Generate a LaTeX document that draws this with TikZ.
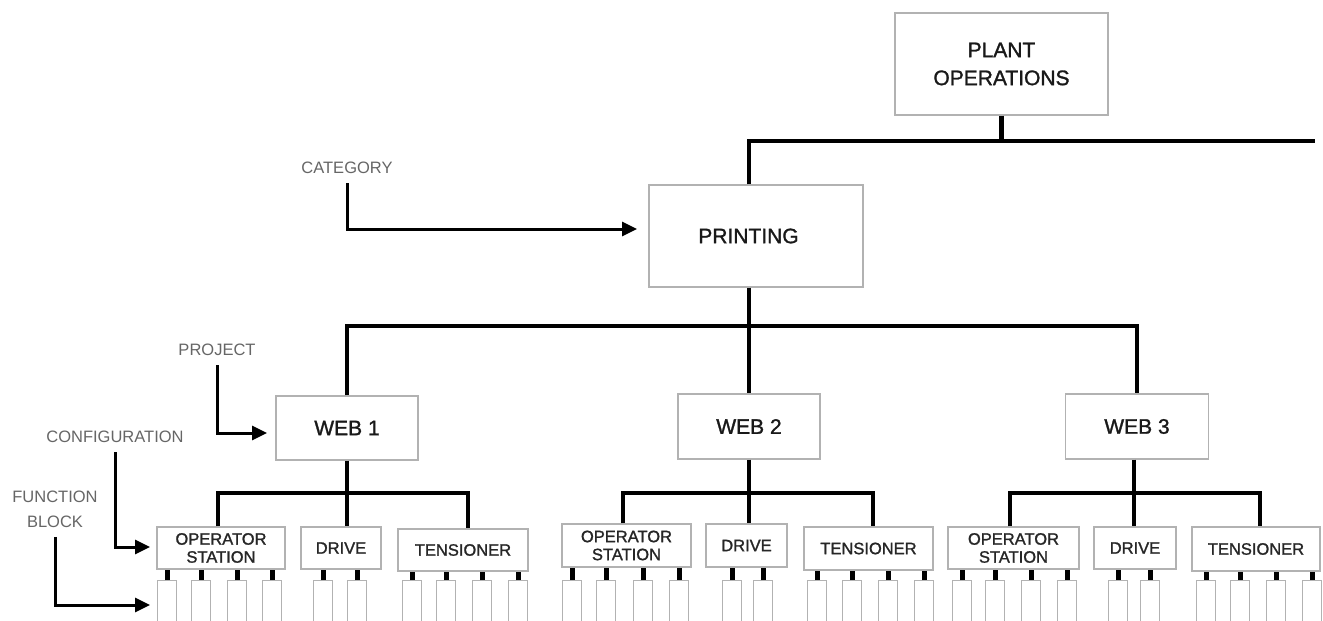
\documentclass[tikz,border=0pt]{standalone}
\usepackage{fontspec}
\setmainfont{Liberation Sans}
\newfontfamily\boxfont[FakeBold=1.3]{Liberation Sans}
\usetikzlibrary{arrows.meta}
\begin{document}
\begin{tikzpicture}[x=1pt,y=-1pt,
  bigbox/.style={draw=black!30, line width=1.2pt, inner sep=0pt, align=center, font=\boxfont\fontsize{21}{28}\selectfont, text=black!90},
  cfgbox/.style={draw=black!30, line width=1.2pt, inner sep=0pt, align=center, font=\boxfont\fontsize{16.5}{18}\selectfont, text=black!85},
  fblock/.style={draw=black!30, line width=1pt, inner sep=0pt, minimum width=19pt, minimum height=50pt, anchor=north},
  bus/.style={line width=4.2pt, line join=miter},
  stub/.style={line width=5pt},
  lbl/.style={font=\fontsize{16.5}{25}\selectfont, text=black!60, align=center},
  arr/.style={line width=3pt, -{Triangle[length=15pt,width=14pt]}, shorten <=6pt}
]
\clip (0,0) rectangle (1323,621);
\fill[white] (0,0) rectangle (1323,621);

% main boxes
\node[bigbox, minimum width=213pt, minimum height=102pt] (plant) at (1001.5,64) {PLANT\\OPERATIONS};
\node[bigbox, minimum width=214pt, minimum height=102pt] (printing) at (756,236) {PRINTING\hspace*{15pt}};
\node[bigbox, minimum width=142pt, minimum height=64pt] (web1) at (347,428) {WEB 1};
\node[bigbox, minimum width=142pt, minimum height=65pt] (web2) at (749,426.5) {WEB 2};
\node[bigbox, minimum width=143pt, minimum height=65pt] (web3) at (1137,426.5) {WEB 3};

% configuration boxes
\node[cfgbox, minimum width=128pt, minimum height=42pt] (os1) at (221,548) {OPERATOR\\STATION};
\node[cfgbox, minimum width=80pt, minimum height=42pt] (drive1) at (341,548) {DRIVE};
\node[cfgbox, minimum width=130pt, minimum height=42pt] (tens1) at (463,550) {TENSIONER};
\node[cfgbox, minimum width=129pt, minimum height=43pt] (os2) at (626.5,545.5) {OPERATOR\\STATION};
\node[cfgbox, minimum width=81pt, minimum height=43pt] (drive2) at (746.5,545.5) {DRIVE};
\node[cfgbox, minimum width=129pt, minimum height=43pt] (tens2) at (868.5,548.5) {TENSIONER};
\node[cfgbox, minimum width=131pt, minimum height=42pt] (os3) at (1013.5,548) {OPERATOR\\STATION};
\node[cfgbox, minimum width=82pt, minimum height=42pt] (drive3) at (1135,548) {DRIVE};
\node[cfgbox, minimum width=128pt, minimum height=44pt] (tens3) at (1256,549) {TENSIONER};

% function blocks with stubs
\foreach \x/\p/\n in {167/os1/a,201/os1/b,237/os1/c,272/os1/d,323/drive1/e,357/drive1/f,412/tens1/g,446/tens1/h,482/tens1/i,518/tens1/j,
  572/os2/k,606/os2/l,643/os2/m,679/os2/n,732/drive2/o,763/drive2/p,817/tens2/q,852/tens2/r,888/tens2/s,924/tens2/t,
  962/os3/u,995/os3/v,1031/os3/w,1067/os3/x,1118/drive3/y,1150/drive3/z,1206/tens3/aa,1240/tens3/ab,1276/tens3/ac,1312/tens3/ad}{
  \node[fblock] (fb\n) at (\x,580) {};
  \draw[stub] (fb\n.north) -- (fb\n.north |- \p.south);
}

% tree connectors
\coordinate (topR) at (1315,141);
\coordinate (midbus) at (0,326);
\coordinate (b1) at (0,493);
\draw[bus] (plant.south) -- (plant.south |- topR);
\draw[bus] (web2.north |- printing.north) |- (topR);
\draw[bus] (web2.north |- printing.south) -- (web2.north);
\draw[bus] (web1.north) -- (web1.north |- midbus) -- (web3.north |- midbus) -- (web3.north);

\draw[bus] (web1.south) -- (web1.south |- drive1.north);
\draw[bus] ([xshift=-3pt]os1.north) -- ([xshift=-3pt]os1.north |- b1) -- ([xshift=5pt]tens1.north |- b1) -- ([xshift=5pt]tens1.north);
\draw[bus] (web2.south) -- (web2.south |- drive2.north);
\draw[bus] ([xshift=-3.5pt]os2.north) -- ([xshift=-3.5pt]os2.north |- b1) -- ([xshift=4.5pt]tens2.north |- b1) -- ([xshift=4.5pt]tens2.north);
\draw[bus] ([xshift=-3pt]web3.south) -- ([xshift=-3pt]web3.south |- drive3.north);
\draw[bus] ([xshift=-3.5pt]os3.north) -- ([xshift=-3.5pt]os3.north |- b1) -- ([xshift=4pt]tens3.north |- b1) -- ([xshift=4pt]tens3.north);

% level labels
\node[lbl] (cat) at (347,168) {CATEGORY};
\node[lbl] (proj) at (217,350) {PROJECT};
\node[lbl] (conf) at (115,437) {CONFIGURATION};
\node[lbl] (fbl) at (55,509) {FUNCTION\\BLOCK};
\coordinate (catT) at (637,229);
\coordinate (projT) at (267,433);
\coordinate (confT) at (150,547);
\coordinate (fbT) at (150,605);
\draw[arr] (cat.south) |- (catT);
\draw[arr] (proj.south) |- (projT);
\draw[arr] (conf.south) |- (confT);
\draw[arr] (fbl.south) |- (fbT);
\end{tikzpicture}
\end{document}
